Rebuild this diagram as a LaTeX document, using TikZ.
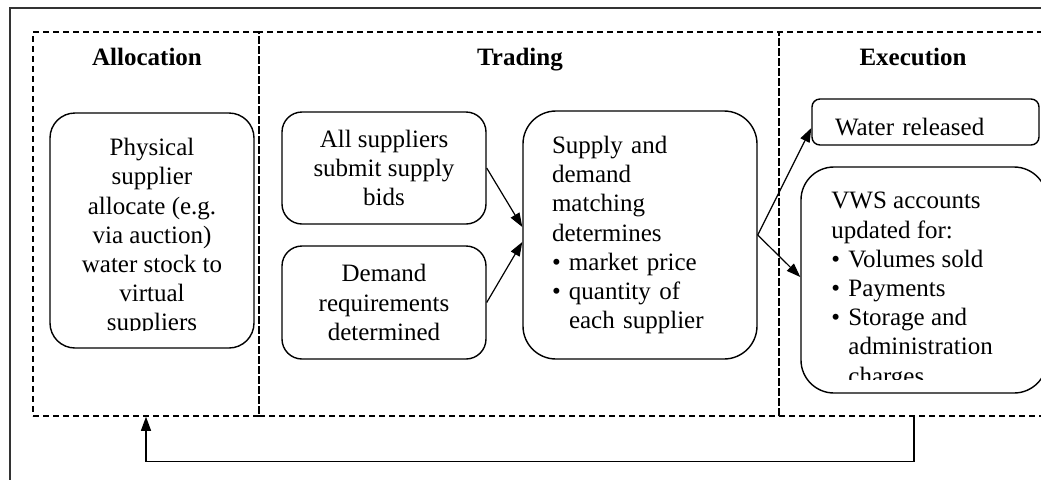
\documentclass[tikz,border=0pt]{standalone}
\usepackage{fontspec}
\setmainfont{Liberation Serif}
\usepackage{tikz}
\usetikzlibrary{positioning,arrows.meta,calc}

\newcommand{\dotitem}{\makebox[8.5pt][l]{\textbullet}}
\newcommand{\dotpad}{\hspace*{8.5pt}}

\begin{document}
\begin{tikzpicture}[x=0.5pt,y=-0.5pt,
  font=\fontsize{12.5}{14.6}\selectfont,
  panel/.style={draw,dash pattern=on 3pt off 2pt,line width=0.75pt,inner sep=0pt,minimum height=192pt},
  title/.style={font=\fontsize{12.5}{14.6}\selectfont\bfseries,anchor=base},
  stagebox/.style={draw,line width=0.7pt,rounded corners=#1,inner sep=0pt},
  stagebox/.default=10pt,
  flow/.style={-{Triangle[length=7pt,width=5pt]},line width=0.6pt}]
\clip (0,0) rectangle (1041,479);

% Frame
\draw[black!80,line width=0.6pt] (10,8) rectangle (1060,500);

% Stages
\node[panel,minimum width=113pt] (allocpanel) at (146,224) {};
\node[panel,minimum width=260pt] (tradepanel) at (519,224) {};
\node[panel,minimum width=135pt] (execpanel) at (914,224) {};

\node[title] (alloctitle) at ($(allocpanel.north)+(1,34)$) {Allocation};
\node[title] (tradetitle) at ($(tradepanel.north)+(1,34)$) {Trading};
\node[title] (exectitle) at ($(execpanel.north)+(-1,34)$) {Execution};

% Allocation
\node[stagebox=12.5pt,minimum width=102pt,minimum height=117.5pt] (alloc) at (152,230.5) {};
\begin{scope}
  \clip (50,113) rectangle (254,330);
  \node[anchor=north,align=center,inner sep=0pt] (alloctext) at (152,138)
    {Physical\\supplier\\allocate (e.g.\\via auction)\\water stock to\\virtual\\suppliers};
\end{scope}

% Trading
\node[stagebox,minimum width=102pt,minimum height=56pt,align=center] (bids) at (384,168)
  {All suppliers\\submit supply\\bids};
\node[stagebox,minimum width=102pt,minimum height=56.5pt,align=center] (demand) at (384,302.5)
  {Demand\\requirements\\determined};
\node[stagebox=16.5pt,minimum width=117pt,minimum height=124pt,text width=88pt,inner xsep=14.5pt,align=left] (match) at (640,235)
  {Supply and\\demand\\matching\\determines\\\dotitem market price\\\dotitem quantity of\\\dotpad each supplier};

% Execution
\node[stagebox=4pt,minimum width=113.5pt,minimum height=23pt,text width=90.5pt,inner xsep=11.5pt,align=left,text height=13.5pt,text depth=0pt] (water) at (925.5,122)
  {Water released};
\node[stagebox=16.5pt,minimum width=123pt,minimum height=113pt] (vws) at (924,280) {};
\begin{scope}
  \clip (801,167) rectangle (1049,379);
  \node[anchor=north west,align=left,inner sep=0pt] (vwstext) at (831,192)
    {VWS accounts\\updated for:\\\dotitem Volumes sold\\\dotitem Payments\\\dotitem Storage and\\\dotpad administration\\\dotpad charges};
\end{scope}

% Connectors
\draw[flow] (bids.east) -- ($(match.west)+(0,-8)$);
\draw[flow] (demand.east) -- ($(match.west)+(0,7)$);
\draw[flow] (match.east) -- ($(water.west)+(0,6)$);
\draw[flow] (match.east) -- ($(vws.west)+(0,-3)$);
\draw[flow] (execpanel.south) -- ++(0,45) -| (allocpanel.south);
\end{tikzpicture}
\end{document}
